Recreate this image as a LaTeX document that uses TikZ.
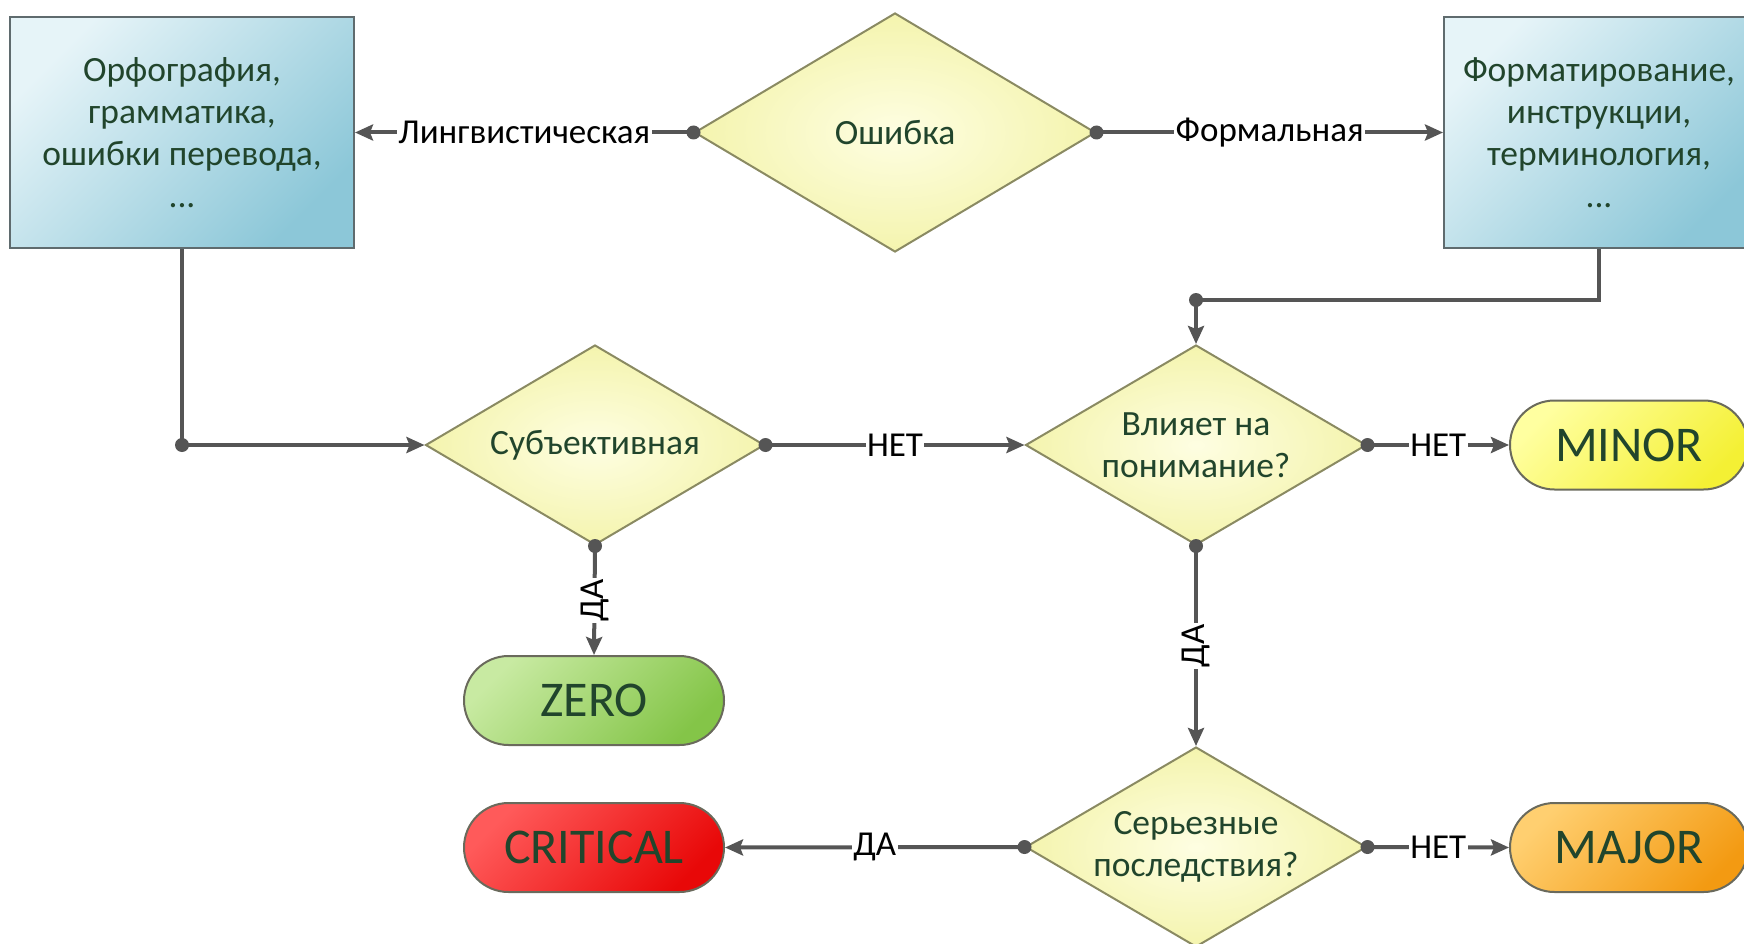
\documentclass[tikz,border=0pt]{standalone}
\usepackage{fontspec}
\setmainfont{Carlito}
\usetikzlibrary{shapes.geometric,shapes.misc,arrows.meta}

\definecolor{linegray}{HTML}{555555}
\definecolor{txtgreen}{HTML}{21452C}
\definecolor{boxlight}{HTML}{E6F4F8}
\definecolor{boxdark}{HTML}{8CC7D8}
\definecolor{boxedge}{HTML}{5F6B6E}
\definecolor{dialight}{HTML}{FEFEE2}
\definecolor{diadark}{HTML}{F4F4AE}
\definecolor{diaedge}{HTML}{8A8A62}
\definecolor{termedge}{HTML}{6A6A5C}
\definecolor{zerolight}{HTML}{C8EAA2}
\definecolor{zerodark}{HTML}{84C548}
\definecolor{critlight}{HTML}{FF5A5A}
\definecolor{critdark}{HTML}{E80808}
\definecolor{minorlight}{HTML}{FFFFA0}
\definecolor{minordark}{HTML}{F4F034}
\definecolor{majorlight}{HTML}{FFCF70}
\definecolor{majordark}{HTML}{F39A12}

\tikzset{
  catbox/.style={rectangle, draw=boxedge, line width=2pt,
    top color=boxlight, bottom color=boxdark, shading angle=45,
    minimum height=231pt, align=center, text=txtgreen,
    font=\fontsize{35.5}{42}\selectfont, inner sep=0pt},
  dtext/.style={align=center, text=txtgreen, inner sep=0pt,
    font=\fontsize{35.5}{42}\selectfont},
  decision/.style={diamond, draw=diaedge, line width=2pt,
    inner color=dialight, outer color=diadark, inner sep=0pt,
    label={[dtext]center:#1}},
  terminal/.style={rounded rectangle, draw=termedge, line width=2pt,
    minimum width=#1, minimum height=89pt, inner sep=0pt,
    text=txtgreen, font=\fontsize{50}{54}\selectfont},
  conn/.style={draw=linegray, line width=4pt,
    -{Stealth[length=18pt,width=16pt,inset=3pt]}},
  plain/.style={draw=linegray, line width=4pt},
  elabel/.style={fill=white, inner sep=1.5pt, text=black,
    font=\fontsize{35}{38}\selectfont},
  srcdot/.style={fill=linegray}
}

\begin{document}
\begin{tikzpicture}[x=1pt, y=-1pt]
\useasboundingbox (0,0) rectangle (1744,944);
\clip (0,0) rectangle (1744,944);

% category boxes
\node[catbox, minimum width=344pt] (lbox) at (182,132.5)
  {Орфография,\\грамматика,\\ошибки перевода,\\...};
\node[catbox, minimum width=310pt] (rbox) at (1599,132.5)
  {Форматирование,\\инструкции,\\терминология,\\...};

% decisions
\node[decision={Ошибка}, minimum width=401pt, minimum height=239pt] (err) at (895,132.5) {};
\node[decision={Субъективная}, minimum width=339pt, minimum height=200pt] (subj) at (595,445) {};
\node[decision={Влияет на\\понимание?}, minimum width=341pt, minimum height=200pt] (infl) at (1196,445) {};
\node[decision={Серьезные\\последствия?}, minimum width=341pt, minimum height=200pt] (sev) at (1196,847) {};

% severity levels
\node[terminal=260pt, top color=zerolight, bottom color=zerodark, shading angle=45] (zero) at (594,700.5) {ZERO};
\node[terminal=260pt, top color=critlight, bottom color=critdark, shading angle=45] (crit) at (594,847.5) {CRITICAL};
\node[terminal=238pt, top color=minorlight, bottom color=minordark, shading angle=45] (minor) at (1629,445) {MINOR};
\node[terminal=238pt, top color=majorlight, bottom color=majordark, shading angle=45] (major) at (1629,847.5) {MAJOR};

% bend points
\coordinate (lbend) at (lbox.south |- subj.west);
\path (infl.north) ++(0,-44) coordinate (rbend);

% connectors
\draw[conn] (err.west) -- node[elabel] {Лингвистическая} (lbox.east);
\draw[conn] (err.east) -- node[elabel] {Формальная} (rbox.west);
\draw[plain] (lbox.south) -- (lbend);
\draw[conn] (lbend) -- (subj.west);
\draw[plain] (rbox.south) |- (rbend);
\draw[conn] (rbend) -- (infl.north);
\draw[conn] (subj.east) -- node[elabel] {НЕТ} (infl.west);
\draw[conn] (infl.east) -- node[elabel] {НЕТ} (minor.west);
\draw[conn] (subj.south) -- node[elabel, rotate=90] {ДА} (zero.north);
\draw[conn] (infl.south) -- node[elabel, rotate=90] {ДА} (sev.north);
\draw[conn] (sev.west) -- node[elabel] {ДА} (crit.east);
\draw[conn] (sev.east) -- node[elabel] {НЕТ} (major.west);

% connection dots
\foreach \p in {err.west, err.east, lbend, rbend, subj.east, subj.south,
                infl.east, infl.south, sev.west, sev.east}
  \fill[srcdot] (\p) circle (7pt);
\end{tikzpicture}
\end{document}
